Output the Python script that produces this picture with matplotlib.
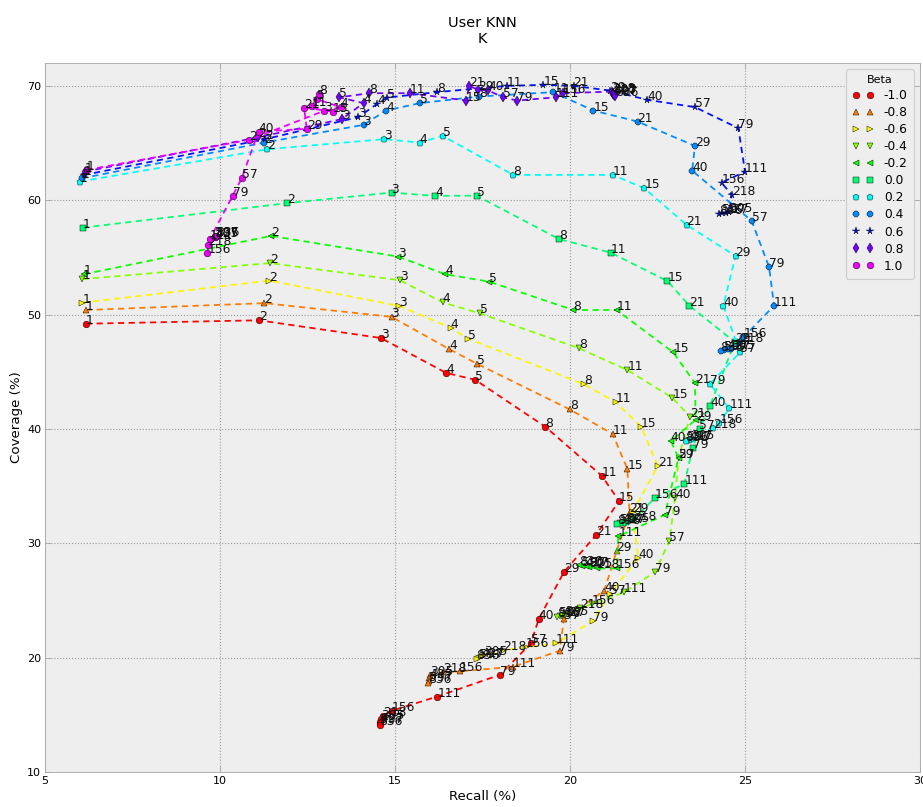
import matplotlib
matplotlib.use("Agg")
import matplotlib.pyplot as plt
from matplotlib.lines import Line2D

K = [1, 2, 3, 4, 5, 8, 11, 15, 21, 29, 40, 57, 79, 111, 156, 218, 305, 427, 597, 836]
betas = ["-1.0", "-0.8", "-0.6", "-0.4", "-0.2", "0.0", "0.2", "0.4", "0.6", "0.8", "1.0"]

recall_m10 = [6.17, 11.11, 14.6, 16.46, 17.29, 19.29, 20.91, 21.4, 20.74, 19.83, 19.11, 18.88, 18.0, 16.21, 14.9, 14.65, 14.6, 14.58, 14.57, 14.56]
coverage_m10 = [49.2, 49.5, 47.95, 44.9, 44.3, 40.2, 35.9, 33.7, 30.7, 27.5, 23.4, 21.24, 18.5, 16.6, 15.35, 14.9, 14.6, 14.4, 14.25, 14.1]

recall_m08 = [6.17, 11.27, 14.9, 16.54, 17.34, 20.0, 21.22, 21.64, 21.7, 21.33, 20.98, 19.83, 19.7, 18.37, 16.86, 16.37, 16.0, 15.97, 15.96, 15.95]
coverage_m08 = [50.4, 51.0, 49.8, 47.0, 45.7, 41.7, 39.55, 36.5, 32.7, 29.3, 25.85, 23.4, 20.6, 19.2, 18.8, 18.75, 18.47, 18.2, 17.95, 17.8]

recall_m06 = [6.07, 11.41, 15.12, 16.59, 17.08, 20.4, 21.3, 22.03, 22.51, 21.79, 21.95, 21.14, 20.65, 19.6, 18.74, 18.1, 17.55, 17.47, 17.4, 17.33]
coverage_m06 = [51.04, 52.97, 50.75, 48.85, 47.9, 43.9, 42.35, 40.2, 36.75, 32.73, 28.7, 25.6, 23.2, 21.24, 20.9, 20.65, 20.2, 20.1, 20.0, 19.9]

recall_m04 = [6.07, 11.43, 15.14, 16.36, 17.43, 20.26, 21.64, 22.92, 23.43, 23.1, 23.0, 22.84, 22.43, 21.54, 20.62, 20.29, 19.85, 19.78, 19.7, 19.62]
coverage_m04 = [53.1, 54.5, 53.0, 51.07, 50.1, 47.05, 45.15, 42.74, 41.07, 37.5, 34.0, 30.2, 27.5, 25.7, 24.7, 24.3, 23.7, 23.65, 23.6, 23.55]

recall_m02 = [6.11, 11.46, 15.09, 16.43, 17.69, 20.09, 21.33, 22.95, 23.57, 23.59, 22.88, 23.1, 22.71, 21.38, 21.33, 20.76, 20.55, 20.45, 20.35, 20.25]
coverage_m02 = [53.53, 56.88, 55.07, 53.53, 52.88, 50.4, 50.4, 46.7, 44.0, 40.8, 38.94, 37.5, 32.5, 30.6, 27.8, 27.8, 27.95, 28.0, 28.05, 28.1]

recall_p00 = [6.08, 11.91, 14.9, 16.14, 17.33, 19.69, 21.16, 22.78, 23.41, 24.71, 24.0, 23.7, 23.5, 23.27, 22.43, 21.8, 21.6, 21.5, 21.42, 21.35]
coverage_p00 = [57.6, 59.74, 60.67, 60.38, 60.4, 56.6, 55.42, 52.94, 50.78, 47.6, 42.03, 40.0, 38.3, 35.2, 34.0, 32.0, 31.85, 31.8, 31.75, 31.7]

recall_p02 = [6.0, 11.35, 14.69, 15.71, 16.36, 18.38, 21.22, 22.12, 23.33, 24.73, 24.38, 24.86, 24.0, 24.55, 24.27, 24.09, 23.45, 23.4, 23.35, 23.3]
coverage_p02 = [61.63, 64.46, 65.34, 65.04, 65.63, 62.21, 62.21, 61.05, 57.84, 55.13, 50.78, 46.7, 43.93, 41.8, 40.5, 40.05, 39.1, 39.05, 39.0, 38.95]

recall_p04 = [6.05, 11.26, 14.1, 14.74, 15.71, 17.41, 19.52, 20.67, 21.93, 23.57, 23.49, 25.19, 25.69, 25.83, 24.95, 24.85, 24.6, 24.5, 24.4, 24.3]
coverage_p04 = [61.92, 65.04, 66.59, 67.84, 68.49, 69.07, 69.45, 67.84, 66.88, 64.75, 62.59, 58.2, 54.14, 50.78, 48.0, 47.6, 47.0, 46.95, 46.9, 46.85]

recall_p06 = [6.1, 11.29, 13.95, 14.49, 14.78, 16.19, 18.19, 19.24, 20.1, 21.14, 22.21, 23.57, 24.81, 25.0, 24.33, 24.62, 24.55, 24.45, 24.35, 24.25]
coverage_p06 = [62.2, 65.34, 67.26, 68.43, 68.98, 69.45, 70.0, 70.09, 70.0, 69.59, 68.78, 68.14, 66.3, 62.5, 61.54, 60.46, 58.95, 58.9, 58.85, 58.8]

recall_p08 = [6.14, 11.09, 13.48, 14.1, 13.41, 14.27, 15.43, 17.03, 17.12, 17.38, 17.67, 18.08, 18.49, 19.6, 19.79, 21.2, 21.22, 21.24, 21.26, 21.28]
coverage_p08 = [62.5, 65.5, 67.09, 68.49, 69.0, 69.36, 69.36, 68.72, 70.0, 69.65, 69.6, 69.0, 68.72, 69.0, 69.36, 69.5, 69.4, 69.3, 69.2, 69.1]

recall_p10 = [6.19, 10.84, 12.97, 13.45, 12.76, 12.83, 12.62, 13.22, 12.4, 12.48, 11.1, 10.62, 10.36, 9.71, 9.64, 9.67, 9.85, 9.86, 9.87, 9.88]
coverage_p10 = [62.65, 65.28, 67.81, 68.14, 68.84, 69.3, 68.2, 67.75, 68.1, 66.24, 66.0, 61.92, 60.38, 56.6, 55.4, 56.1, 56.75, 56.8, 56.85, 56.9]

recalls = [recall_m10, recall_m08, recall_m06, recall_m04, recall_m02, recall_p00,
           recall_p02, recall_p04, recall_p06, recall_p08, recall_p10]
coverages = [coverage_m10, coverage_m08, coverage_m06, coverage_m04, coverage_m02, coverage_p00,
             coverage_p02, coverage_p04, coverage_p06, coverage_p08, coverage_p10]

markers = ['o', '^', '>', 'v', '<', 's', 'p', '8', '*', 'd', 'o']
cmap = plt.get_cmap('hsv')

fig = plt.figure(figsize=(923 / 80, 807 / 80), dpi=80)
ax = fig.add_axes([45 / 923, 1 - 772 / 807, (920 - 45) / 923, (772 - 63) / 807])
ax.set_facecolor('#eeeeee')

handles = []
for i, b in enumerate(betas):
    col = cmap(i / 12.0)
    ms = 7 if markers[i] == '*' else 6
    ax.plot(recalls[i], coverages[i], linestyle='--', dashes=(3.5, 2.5), color=col, linewidth=1.6,
            marker=markers[i], markersize=ms,
            markeredgecolor='black', markeredgewidth=0.4)
    for k, xv, yv in zip(K, recalls[i], coverages[i]):
        ax.text(xv, yv, str(k), fontsize=11, color='#111111')
    handles.append(Line2D([], [], linestyle='none', marker=markers[i], markersize=ms,
                          color=col, markeredgecolor='black', markeredgewidth=0.4, label=b))

ax.set_xlim(5, 30)
ax.set_ylim(10, 72)
ax.set_xticks([5, 10, 15, 20, 25, 30])
ax.set_yticks([10, 20, 30, 40, 50, 60, 70])
ax.grid(True, linestyle=':', color='#999999', linewidth=1)
ax.set_axisbelow(True)
for s in ax.spines.values():
    s.set_color('#aaaaaa')
ax.tick_params(direction='in', top=True, right=True, color='#aaaaaa', labelsize=10, length=5)
ax.set_xlabel('Recall (%)', fontsize=12)
ax.set_ylabel('Coverage (%)', fontsize=12)
ax.set_title('User KNN\nK', fontsize=13, pad=18)

leg = ax.legend(handles=handles, title='Beta', loc='upper right', numpoints=2, fontsize=11,
                title_fontsize=10, fancybox=True, framealpha=1, facecolor='#eeeeee',
                edgecolor='#cccccc', borderpad=0.5, labelspacing=0.33, handletextpad=0.8,
                handlelength=1.8)

fig.savefig('out.png', dpi=80)
